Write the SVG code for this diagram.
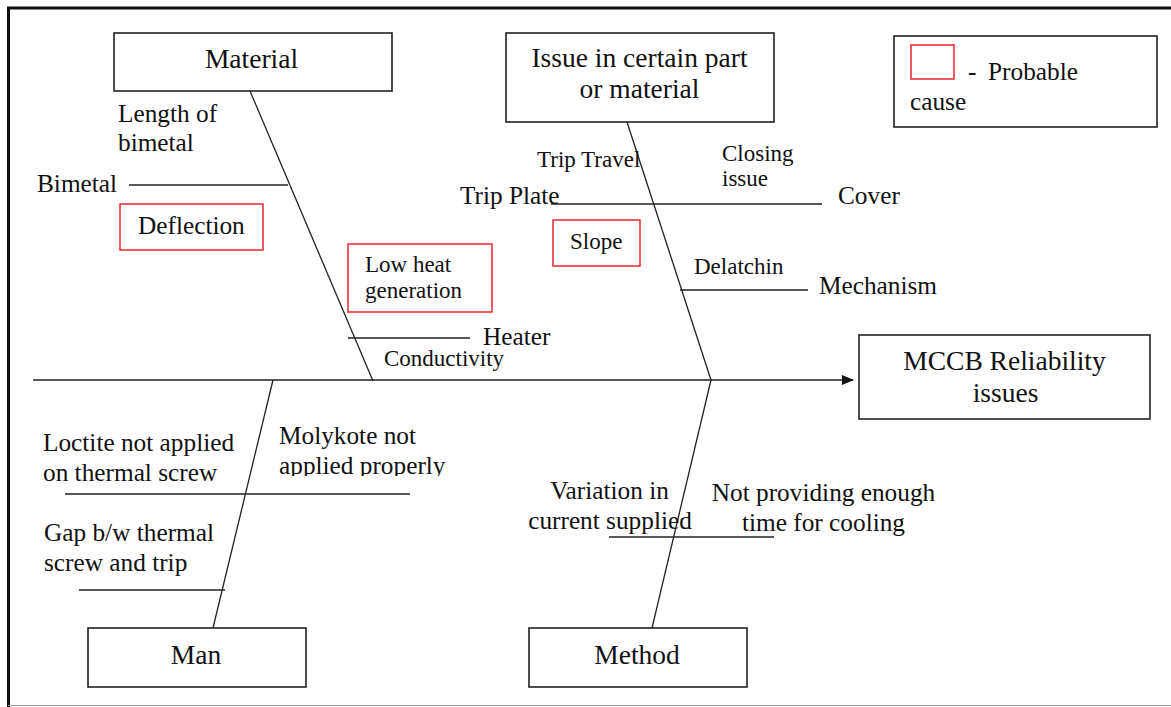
<svg xmlns="http://www.w3.org/2000/svg" width="1171" height="707" viewBox="0 0 1171 707">
<style>
text{font-family:"Liberation Serif","Times New Roman",serif;fill:#111}
.box{fill:#fff;stroke:#222;stroke-width:1.6}
.red{fill:none;stroke:#e8262b;stroke-width:1.5}
.ln{stroke:#222;stroke-width:1.3;fill:none}
.t{font-size:27.5px}
.l{font-size:25.3px}
.m{font-size:23px}
.c{text-anchor:middle}
</style>
<defs>
<marker id="ah" markerWidth="12" markerHeight="10" refX="11" refY="5" orient="auto" markerUnits="userSpaceOnUse">
<path d="M0,0 L12,5 L0,10 Z" fill="#111"/>
</marker>
<clipPath id="molyclip"><rect x="270" y="420" width="200" height="56"/></clipPath>
</defs>
<rect width="1171" height="707" fill="#fff"/>
<g id="frame">
<line x1="7" y1="8" x2="1171" y2="8" stroke="#111" stroke-width="3"/>
<line x1="8.5" y1="7" x2="8.5" y2="707" stroke="#111" stroke-width="3"/>
<line x1="8" y1="705.5" x2="1171" y2="705.5" stroke="#999" stroke-width="1"/>
</g>
<g id="connectors">
<line class="ln" x1="33" y1="380" x2="853" y2="380" marker-end="url(#ah)"/>
<line class="ln" x1="250" y1="91" x2="373" y2="381"/>
<line class="ln" x1="627" y1="122" x2="711" y2="380"/>
<line class="ln" x1="273" y1="380" x2="213" y2="628"/>
<line class="ln" x1="711" y1="380" x2="652" y2="628"/>
<line class="ln" x1="129" y1="185" x2="288" y2="185"/>
<line class="ln" x1="348" y1="338" x2="470" y2="338"/>
<line class="ln" x1="551" y1="204" x2="822" y2="204"/>
<line class="ln" x1="680" y1="290" x2="808" y2="290"/>
<line class="ln" x1="65" y1="494" x2="410" y2="494"/>
<line class="ln" x1="79" y1="590" x2="225" y2="590"/>
<line class="ln" x1="609" y1="537" x2="774" y2="537"/>
</g>
<g id="material">
<rect class="box" x="114" y="33" width="278" height="58"/>
<text class="t c" x="251.5" y="68">Material</text>
</g>
<g id="issue">
<rect class="box" x="506" y="33" width="268" height="89"/>
<text class="t c" x="639.5" y="67">Issue in certain part</text>
<text class="t c" x="639.5" y="98">or material</text>
</g>
<g id="legend">
<rect class="box" x="894" y="36" width="263" height="91"/>
<rect class="red" x="911" y="45" width="43" height="34"/>
<text class="l" y="80"><tspan x="968">-</tspan><tspan x="988">Probable</tspan></text>
<text class="l" x="910" y="110">cause</text>
</g>
<g id="mccb">
<rect class="box" x="859" y="335" width="291" height="84"/>
<text class="t c" x="1004.5" y="370">MCCB Reliability</text>
<text class="t c" x="1005.5" y="402">issues</text>
</g>
<g id="man">
<rect class="box" x="88" y="628" width="218" height="59"/>
<text class="t c" x="196" y="664">Man</text>
</g>
<g id="method">
<rect class="box" x="529" y="628" width="218" height="59"/>
<text class="t c" x="637" y="664">Method</text>
</g>
<g id="material-causes">
<text class="l" x="118" y="122">Length of</text>
<text class="l" x="118" y="151">bimetal</text>
<text class="l" x="37" y="192">Bimetal</text>
<rect class="red" x="120" y="204" width="143" height="46"/>
<text class="l" x="138" y="234">Deflection</text>
<rect class="red" x="348" y="244" width="144" height="68"/>
<text class="m" x="365" y="272">Low heat</text>
<text class="m" x="365" y="298">generation</text>
<text class="l" x="483" y="345">Heater</text>
<text class="m" x="384" y="366">Conductivity</text>
</g>
<g id="issue-causes">
<text class="m" x="537" y="167">Trip Travel</text>
<text class="m" x="722" y="161">Closing</text>
<text class="m" x="722" y="186">issue</text>
<text class="l" x="460" y="204">Trip Plate</text>
<text class="l" x="838" y="204">Cover</text>
<rect class="red" x="553" y="220" width="87" height="46"/>
<text class="m" x="570" y="249">Slope</text>
<text class="m" x="694" y="274">Delatchin</text>
<text class="l" x="819" y="294">Mechanism</text>
</g>
<g id="man-causes">
<text class="l" x="43" y="451">Loctite not applied</text>
<text class="l" x="43" y="481">on thermal screw</text>
<text class="l" x="279" y="444">Molykote not</text>
<text class="l" x="279" y="474" clip-path="url(#molyclip)">applied properly</text>
<text class="l" x="44" y="541">Gap b/w thermal</text>
<text class="l" x="44" y="571">screw and trip</text>
</g>
<g id="method-causes">
<text class="l c" x="609.5" y="499">Variation in</text>
<text class="l c" x="610" y="529">current supplied</text>
<text class="l c" x="823.5" y="501">Not providing enough</text>
<text class="l c" x="823.5" y="531">time for cooling</text>
</g>
</svg>
